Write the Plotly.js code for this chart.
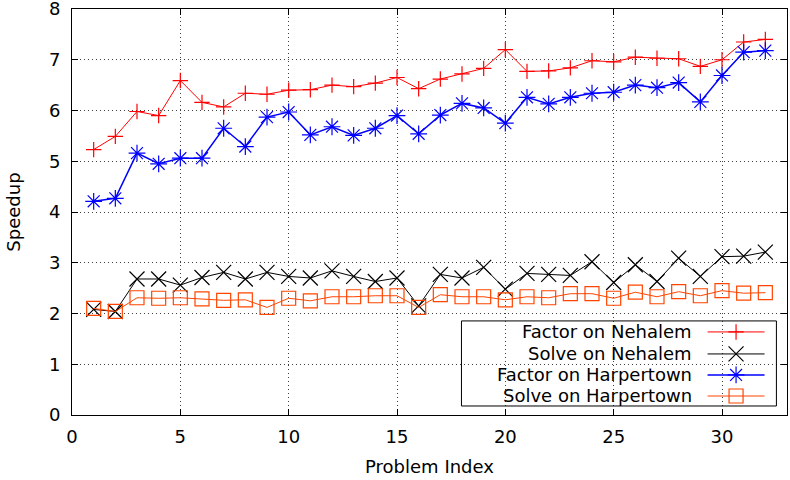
<!DOCTYPE html>
<html>
<head>
<meta charset="utf-8">
<script src="https://cdn.plot.ly/plotly-3.0.1.min.js"></script>
<style>html,body{margin:0;padding:0;background:#fff}#chart{width:790px;height:480px}</style>
</head>
<body>
<div id="chart"></div>
<script>
// ---- data ----
var problemIndex = [1,2,3,4,5,6,7,8,9,10,11,12,13,14,15,16,17,18,19,20,21,22,23,24,25,26,27,28,29,30,31,32];
var factorNehalem = [5.23,5.49,5.98,5.90,6.59,6.16,6.07,6.34,6.32,6.40,6.41,6.50,6.47,6.54,6.65,6.43,6.62,6.72,6.83,7.20,6.77,6.78,6.84,6.98,6.96,7.05,7.03,7.02,6.87,7.00,7.35,7.40];
var solveNehalem = [2.08,2.04,2.68,2.68,2.56,2.71,2.81,2.68,2.81,2.73,2.70,2.84,2.73,2.63,2.70,2.15,2.77,2.70,2.91,2.48,2.79,2.77,2.75,3.02,2.61,2.96,2.63,3.09,2.73,3.12,3.13,3.21];
var factorHarpertown = [4.21,4.27,5.16,4.95,5.06,5.06,5.65,5.29,5.87,5.97,5.52,5.68,5.51,5.65,5.90,5.54,5.91,6.14,6.05,5.75,6.26,6.13,6.26,6.34,6.36,6.50,6.45,6.55,6.17,6.69,7.15,7.18];
var solveHarpertown = [2.10,2.04,2.31,2.30,2.31,2.29,2.26,2.27,2.12,2.30,2.25,2.33,2.33,2.35,2.35,2.12,2.37,2.33,2.33,2.27,2.33,2.31,2.39,2.39,2.30,2.42,2.33,2.43,2.35,2.45,2.40,2.41];
var seriesNames = ["Factor on Nehalem","Solve on Nehalem","Factor on Harpertown","Solve on Harpertown"];
var xTitle = "Problem Index";
var yTitle = "Speedup";

// ---- styles ----
var FONT = "DejaVu Sans, sans-serif";
var FS = 18;
var styles = [
  {color:"#ff0000", symbol:"cross-thin-open", size:11, lw:1},
  {color:"#000000", symbol:"x-thin-open", size:15, lw:1},
  {color:"#0000ff", symbol:"asterisk-open", size:14, lw:1.5},
  {color:"#ff4500", symbol:"square-open", size:14, lw:1}
];
var seriesVals = [factorNehalem, solveNehalem, factorHarpertown, solveHarpertown];

var traces = seriesVals.map(function(v,i){
  var s = styles[i];
  return {x: problemIndex, y: v, type:"scatter", mode:"lines+markers", name: seriesNames[i],
    line:{color:s.color, width:s.lw}, marker:{symbol:s.symbol, size:s.size, color:s.color, line:{color:s.color, width:1.2}},
    showlegend:false, cliponaxis:false};
});

// custom gnuplot-style legend (text left, sample right) on an overlay axis
var legRowsY = [0.2046, 0.1504, 0.0986, 0.0468];
var legTextX = 0.8705, legLineX0 = 0.8889, legLineX1 = 0.9686;
seriesVals.forEach(function(v,i){
  var s = styles[i];
  traces.push({x:[legLineX0, legLineX1], y:[legRowsY[i], legRowsY[i]], xaxis:"x2", yaxis:"y2", type:"scatter", mode:"lines",
    line:{color:s.color, width:s.lw}, showlegend:false, hoverinfo:"skip"});
  traces.push({x:[(legLineX0+legLineX1)/2], y:[legRowsY[i]], xaxis:"x2", yaxis:"y2", type:"scatter", mode:"markers",
    marker:{symbol:s.symbol, size:s.size, color:s.color, line:{color:s.color, width:1.2}}, showlegend:false, hoverinfo:"skip"});
});

var annotations = seriesNames.map(function(n,i){
  return {xref:"paper", yref:"paper", x:legTextX, y:legRowsY[i], xanchor:"right", yanchor:"middle",
    text:n, showarrow:false, font:{family:FONT, size:FS, color:"#000"}};
});

var axisCommon = {showline:true, linecolor:"#000", linewidth:1, mirror:"ticks", ticks:"inside", ticklen:6, tickcolor:"#000",
  showgrid:true, gridcolor:"rgba(0,0,0,0.75)", griddash:"1px,3px", gridwidth:1, zeroline:false,
  ticklabeloverflow:"allow", tickfont:{family:FONT, size:FS, color:"#000"}};

var layout = {
  width:790, height:480,
  margin:{l:72, r:3, t:9, b:65},
  paper_bgcolor:"#fff", plot_bgcolor:"#fff",
  font:{family:FONT, size:FS, color:"#000"},
  xaxis: Object.assign({}, axisCommon, {range:[0,33], tick0:0, dtick:5, ticklabelstandoff:5,
    title:{text:xTitle, font:{family:FONT,size:FS}, standoff:14}}),
  yaxis: Object.assign({}, axisCommon, {range:[0,8], tick0:0, dtick:1, ticklabelstandoff:7,
    title:{text:yTitle, font:{family:FONT,size:FS}, standoff:23}}),
  xaxis2:{overlaying:"x", range:[0,1], visible:false, fixedrange:true},
  yaxis2:{overlaying:"y", range:[0,1], visible:false, fixedrange:true},
  shapes:[{type:"rect", xref:"paper", yref:"paper", x0:0.5447, x1:0.9852, y0:0.0222, y1:0.2317,
    line:{color:"#000", width:1}, fillcolor:"#fff", layer:"between"}],
  annotations: annotations,
  showlegend:false
};

Plotly.newPlot("chart", traces, layout, {displayModeBar:false, staticPlot:true});
</script>
</body>
</html>
